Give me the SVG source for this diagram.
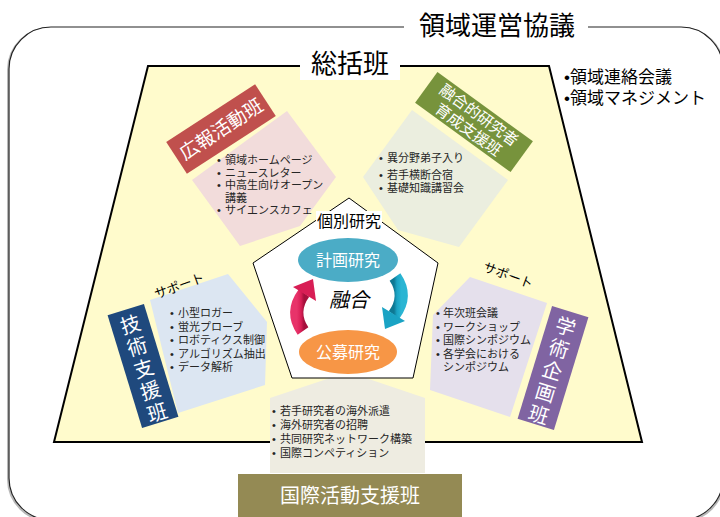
<svg xmlns="http://www.w3.org/2000/svg" width="720" height="517" viewBox="0 0 720 517">
<style>
text{font-family:"Noto Sans CJK JP","Noto Sans",sans-serif;}
.lst,.tr{font-family:"Liberation Sans","Noto Sans CJK JP",sans-serif;}
.lst{font-size:11px;fill:#262626;}
.tr{font-size:17px;fill:#000;}
.lbl{fill:#fff;text-anchor:middle;}
.blk{fill:#000;}
</style>
<defs>
<linearGradient id="gRed" x1="0" y1="0" x2="1" y2="0"><stop offset="0" stop-color="#E8336A"/><stop offset="0.6" stop-color="#D81E55"/><stop offset="1" stop-color="#A5103C"/></linearGradient>
<linearGradient id="gTeal" x1="0" y1="0" x2="1" y2="0"><stop offset="0" stop-color="#2AB5D3"/><stop offset="0.6" stop-color="#1AA3C4"/><stop offset="1" stop-color="#0E7893"/></linearGradient>
</defs>
<rect width="720" height="517" fill="#fff"/>
<g id="outer">
<rect x="8" y="28" width="716" height="493" rx="42" fill="none" stroke="#888" stroke-width="2" opacity="0.6"/>
<rect x="9" y="27" width="714" height="493" rx="42" fill="#fff" stroke="#222" stroke-width="1.2"/>
<rect x="404" y="8" width="184" height="36" fill="#fff"/>
<text x="497" y="35" font-size="26" text-anchor="middle" class="blk">領域運営協議</text>
</g>
<g id="sokatsu">
<polygon points="148,66 549,66 642,442 54,442" fill="#FFFBCC" stroke="#000" stroke-width="2"/>
<rect x="300" y="46" width="100" height="34" fill="#fff"/>
<text x="350" y="73" font-size="26" text-anchor="middle" class="blk">総括班</text>
<text class="tr" x="564" y="83">•領域連絡会議</text>
<text class="tr" x="564" y="104">•領域マネジメント</text>
</g>
<g id="koho">
<polygon points="192,180 287,111 336,177 300,226 240,246" fill="#F2DCDB"/>
<g transform="rotate(-33 221 129)"><rect x="168" y="110" width="106" height="38" fill="#C0504D"/><text x="221" y="136" font-size="19" class="lbl">広報活動班</text></g>
<text class="lst" x="217" y="164">•<tspan x="225">領域ホームページ</tspan></text>
<text class="lst" x="217" y="176.5">•<tspan x="225">ニュースレター</tspan></text>
<text class="lst" x="217" y="189">•<tspan x="225">中高生向けオープン</tspan></text>
<text class="lst" x="225" y="201.5">講義</text>
<text class="lst" x="217" y="214">•<tspan x="225">サイエンスカフェ</tspan></text>
</g>
<g id="yugo">
<polygon points="363,177 412,110 508,180 459,247 398,230" fill="#EBEEDF"/>
<g transform="rotate(36 474 122)"><rect x="415" y="103" width="118" height="38" fill="#77933C"/><text x="474" y="119" font-size="15.5" class="lbl">融合的研究者</text><text x="474" y="137" font-size="15.5" class="lbl">育成支援班</text></g>
<text class="lst" x="379" y="162">•<tspan x="387">異分野弟子入り</tspan></text>
<text class="lst" x="379" y="179">•<tspan x="387">若手横断合宿</tspan></text>
<text class="lst" x="379" y="192">•<tspan x="387">基礎知識講習会</tspan></text>
</g>
<g id="gijutsu">
<polygon points="150,300 228,274 267,322 265,385 178,413" fill="#DCE6F2"/>
<text x="152" y="290" font-size="13" class="blk" transform="rotate(-20 180 282)">サポート</text>
<g transform="rotate(-17 143 366)"><rect x="124" y="307" width="38" height="118" fill="#1F497D"/>
<text class="lbl" font-size="20" x="143" y="330">技</text>
<text class="lbl" font-size="20" x="143" y="353">術</text>
<text class="lbl" font-size="20" x="143" y="376">支</text>
<text class="lbl" font-size="20" x="143" y="399">援</text>
<text class="lbl" font-size="20" x="143" y="422">班</text></g>
<text class="lst" x="170" y="317">•<tspan x="178">小型ロガー</tspan></text>
<text class="lst" x="170" y="330.5">•<tspan x="178">蛍光プローブ</tspan></text>
<text class="lst" x="170" y="344">•<tspan x="178">ロボティクス制御</tspan></text>
<text class="lst" x="170" y="357.5">•<tspan x="178">アルゴリズム抽出</tspan></text>
<text class="lst" x="170" y="371">•<tspan x="178">データ解析</tspan></text>
</g>
<g id="gakujutsu">
<polygon points="470,277 547,303 510,417 430,390 433,315" fill="#E5E0EC"/>
<text x="482" y="280" font-size="13" class="blk" transform="rotate(20 508 276)">サポート</text>
<g transform="rotate(17 553 368)"><rect x="534" y="309" width="38" height="118" fill="#8064A2"/>
<text class="lbl" font-size="20" x="553" y="332">学</text>
<text class="lbl" font-size="20" x="553" y="355">術</text>
<text class="lbl" font-size="20" x="553" y="378">企</text>
<text class="lbl" font-size="20" x="553" y="401">画</text>
<text class="lbl" font-size="20" x="553" y="424">班</text></g>
<text class="lst" x="436" y="317">•<tspan x="443">年次班会議</tspan></text>
<text class="lst" x="436" y="330.5">•<tspan x="443">ワークショップ</tspan></text>
<text class="lst" x="436" y="344">•<tspan x="443">国際シンポジウム</tspan></text>
<text class="lst" x="436" y="357.5">•<tspan x="443">各学会における</tspan></text>
<text class="lst" x="443" y="371">シンポジウム</text>
</g>
<g id="kokusai">
<polygon points="270,398 348,372 425,398 425,473 270,473" fill="#EEECE1"/>
<rect x="238" y="474" width="224" height="43" fill="#948A54"/>
<text x="350" y="503" font-size="20" class="lbl">国際活動支援班</text>
<text class="lst" x="272" y="415">•<tspan x="280">若手研究者の海外派遣</tspan></text>
<text class="lst" x="272" y="429">•<tspan x="280">海外研究者の招聘</tspan></text>
<text class="lst" x="272" y="443">•<tspan x="280">共同研究ネットワーク構築</tspan></text>
<text class="lst" x="272" y="457">•<tspan x="280">国際コンペティション</tspan></text>
</g>
<g id="kobetsu">
<polygon points="349,198 438,263 413,378 292,378 253,263" fill="#fff" stroke="#000" stroke-width="1"/>
<rect x="316" y="211" width="66" height="20" fill="#fff"/>
<text x="349" y="227" font-size="16" text-anchor="middle" class="blk">個別研究</text>
<ellipse cx="348" cy="260" rx="50" ry="22" fill="#4BACC6"/>
<text x="348" y="266" font-size="16" class="lbl">計画研究</text>
<ellipse cx="348" cy="352" rx="49" ry="22" fill="#F79646"/>
<text x="348" y="358" font-size="16" class="lbl">公募研究</text>
<text x="349" y="307" font-size="20" font-style="italic" text-anchor="middle" class="blk">融合</text>
</g>
<g id="connectors">
<g>
<path d="M303,331 Q290,312 304,293" fill="none" stroke="url(#gRed)" stroke-width="13"/>
<polygon points="293,287 313,279 316,301" fill="#D81E55"/>
</g>
<g transform="rotate(180 349 304)">
<path d="M303,331 Q290,312 304,293" fill="none" stroke="url(#gTeal)" stroke-width="13"/>
<polygon points="293,287 313,279 316,301" fill="#1AA3C4"/>
</g>
</g>
</svg>
